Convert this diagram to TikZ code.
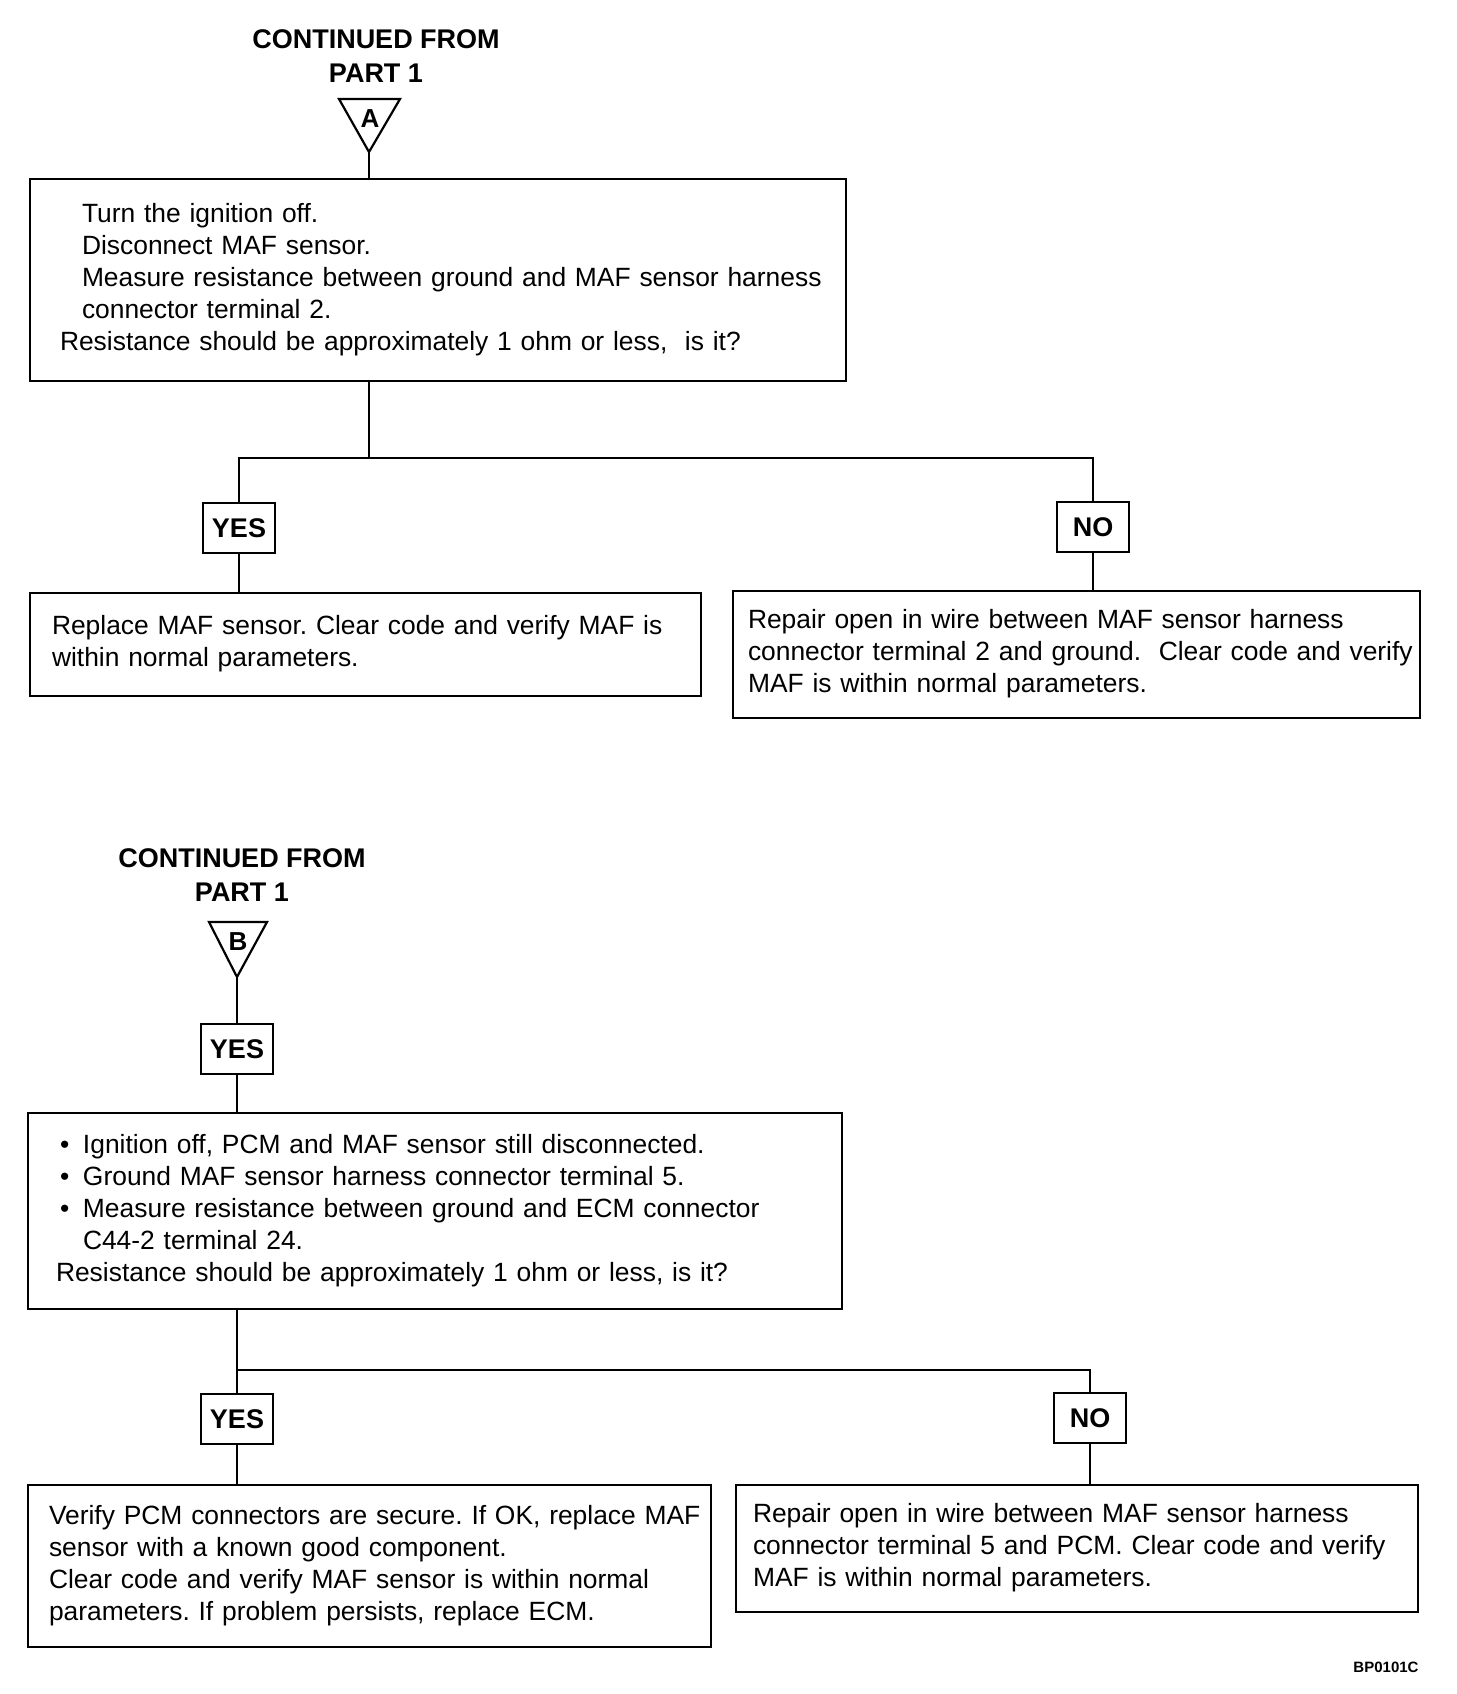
\documentclass[tikz,border=0pt]{standalone}
\usepackage{fontspec}
\setmainfont{Liberation Sans}
\usetikzlibrary{positioning}
\newcommand{\bodyfont}{\fontsize{26.4}{32}\selectfont\frenchspacing}
\newcommand{\headfont}{\fontsize{27}{34}\selectfont\bfseries}
\newcommand{\boxlines}[1]{\begin{tabular}{@{}l@{}}#1\end{tabular}}
\tikzset{
  box/.style    = {draw, line width=2.2pt, align=left, font=\bodyfont, inner ysep=0pt},
  tag/.style    = {draw, line width=2.2pt, font=\headfont, minimum width=72pt,
                   minimum height=50pt, inner sep=0pt},
  wire/.style   = {line width=2.2pt},
  head/.style   = {align=center, font=\headfont},
  letter/.style = {font=\fontsize{26}{26}\selectfont\bfseries, inner sep=0pt},
}

\begin{document}
\begin{tikzpicture}[x=1pt,y=-1pt]
  \useasboundingbox (0,0) rectangle (1456,1694);
  % part A
  \node[head] (headA) at (376,56) {CONTINUED FROM\\PART 1};
  \coordinate (apexA) at (369,152);
  \draw[wire] (339,99) -- (400,99) -- (apexA) -- cycle;
  \node[letter] (letA) at (370,119) {A};
  \node[box, text width=756pt, inner xsep=30pt, minimum height=202pt] (q1) at (438,280)
      {\boxlines{\hspace*{22pt}Turn the ignition off.\\
       \hspace*{22pt}Disconnect MAF sensor.\\
       \hspace*{22pt}Measure resistance between ground and MAF sensor harness\\
       \hspace*{22pt}connector terminal 2.\\
       Resistance should be approximately 1 ohm or less,~ is it?}};
  \coordinate (splitA) at (369,458);
  \node[tag] (yesA) at (239,528) {YES};
  \node[tag] (noA) at (1093,527) {NO};
  \node[box, text width=627pt, inner xsep=22pt, minimum height=103pt] (repA) at (365.5,644.5)
      {\boxlines{Replace MAF sensor. Clear code and verify MAF is\\
       within normal parameters.}};
  \node[box, text width=657pt, inner xsep=15pt, minimum height=127pt] (openA) at (1076.5,654.5)
      {\boxlines{Repair open in wire between MAF sensor harness\\
       connector terminal 2 and ground.~ Clear code and verify\\
       MAF is within normal parameters.}};
  \draw[wire] (apexA) -- (apexA |- q1.north);
  \draw[wire] (apexA |- q1.south) -- (splitA);
  \draw[wire] (yesA.north) |- (splitA) -| (noA.north);
  \draw[wire] (yesA.south) -- (yesA.south |- repA.north);
  \draw[wire] (noA.south) -- (noA.south |- openA.north);
  % part B
  \node[head] (headB) at (242,875) {CONTINUED FROM\\PART 1};
  \coordinate (apexB) at (237,977);
  \draw[wire] (209,922) -- (267,922) -- (apexB) -- cycle;
  \node[letter] (letB) at (238,942) {B};
  \node[tag] (yesB) at (237,1049) {YES};
  \node[box, text width=758pt, inner xsep=28pt, minimum height=196pt] (q2) at (435,1211)
      {\boxlines{\hspace*{4pt}\makebox[23pt][l]{\textbullet}Ignition off, PCM and MAF sensor still disconnected.\\
       \hspace*{4pt}\makebox[23pt][l]{\textbullet}Ground MAF sensor harness connector terminal 5.\\
       \hspace*{4pt}\makebox[23pt][l]{\textbullet}Measure resistance between ground and ECM connector\\
       \hspace*{27pt}C44-2 terminal 24.\\
       Resistance should be approximately 1 ohm or less, is it?}};
  \coordinate (splitB) at (237,1370);
  \node[tag] (yesC) at (237,1419) {YES};
  \node[tag] (noC) at (1090,1418) {NO};
  \node[box, text width=641pt, inner xsep=21pt, minimum height=162pt] (verify) at (369.5,1566)
      {\boxlines{Verify PCM connectors are secure. If OK, replace MAF\\
       sensor with a known good component.\\
       Clear code and verify MAF sensor is within normal\\
       parameters. If problem persists, replace ECM.}};
  \node[box, text width=648pt, inner xsep=17pt, minimum height=127pt] (openB) at (1077,1548.5)
      {\boxlines{Repair open in wire between MAF sensor harness\\
       connector terminal 5 and PCM. Clear code and verify\\
       MAF is within normal parameters.}};
  \draw[wire] (apexB) -- (yesB.north);
  \draw[wire] (yesB.south) -- (yesB.south |- q2.north);
  \draw[wire] (yesB.south |- q2.south) -- (yesC.north);
  \draw[wire] (splitB) -| (noC.north);
  \draw[wire] (yesC.south) -- (yesC.south |- verify.north);
  \draw[wire] (noC.south) -- (noC.south |- openB.north);
  \node[font=\fontsize{15}{15}\selectfont\bfseries] (code) at (1386,1667) {BP0101C};
\end{tikzpicture}
\end{document}
